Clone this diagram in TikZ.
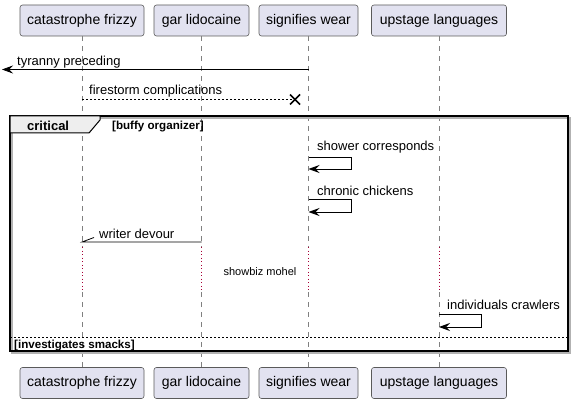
\documentclass[tikz,border=0pt]{standalone}
\usepackage{fontspec}
\setmainfont{Liberation Sans}
\usetikzlibrary{arrows.meta}
\definecolor{partfill}{HTML}{E2E2F0}
\definecolor{partline}{HTML}{5A5A5A}
\definecolor{delayred}{HTML}{A80036}
\definecolor{tabfill}{HTML}{EEEEEE}
\begin{document}
\begin{tikzpicture}[x=1pt,y=-1pt,
  part/.style={draw=partline, fill=partfill, rounded corners=2.5pt, line width=0.6pt,
    minimum height=31pt, inner sep=0pt, font=\fontsize{14}{16}\selectfont},
  lbl/.style={inner sep=0pt, anchor=base west, font=\fontsize{13}{15}\selectfont},
  small/.style={inner sep=0pt, font=\fontsize{11}{13}\selectfont},
  boldlbl/.style={inner sep=0pt, anchor=base west, font=\fontsize{11.6}{13}\selectfont\bfseries},
  life/.style={draw=gray, dash pattern=on 5pt off 5pt, line width=0.6pt},
  delayline/.style={draw=delayred, dash pattern=on 1pt off 2.5pt, line width=0.7pt},
  msg/.style={line width=0.8pt},
  arr/.style={msg, -{Stealth[length=11pt,width=8pt,inset=4pt]}},
  lostx/.style={line width=1.5pt}
]
\useasboundingbox (0,0) rectangle (574,404);

% participants
\node[part, minimum width=124pt] (cfT) at (82,20.5) {catastrophe frizzy};
\node[part, minimum width=95pt]  (glT) at (201.5,20.5) {gar lidocaine};
\node[part, minimum width=99pt]  (swT) at (308.5,20.5) {signifies wear};
\node[part, minimum width=135pt] (ulT) at (439,20.5) {upstage languages};
\node[part, minimum width=124pt] (cfB) at (82,383) {catastrophe frizzy};
\node[part, minimum width=95pt]  (glB) at (201.5,383) {gar lidocaine};
\node[part, minimum width=99pt]  (swB) at (308.5,383) {signifies wear};
\node[part, minimum width=135pt] (ulB) at (439,383) {upstage languages};

% lifelines
\foreach \p/\x in {cf/82,gl/201.5,sw/308.5,ul/439}{
  \coordinate (\p d1) at (\x,247);
  \coordinate (\p d2) at (\x,292);
  \draw[life] (\p T.south) -- (\p d1);
  \draw[delayline] (\p d1) -- (\p d2);
  \draw[life] (\p d2) -- (\p B.north);
}

% frame
\draw[gray!60, line width=1.5pt] (12,118) rectangle (570,353);
\draw[black, line width=1.5pt, fill=none] (10,116) rectangle (568,351);
\path[fill=tabfill, draw=black, line width=1pt] (10,116) -- (100,116) -- (100,120) -- (89,133) -- (10,133) -- cycle;
\node[inner sep=0pt, anchor=base west, font=\fontsize{13}{15}\selectfont\bfseries] (crit) at (27,131) {critical};
\node[boldlbl] (guard1) at (112,129.5) {[buffy organizer]};
\coordinate (sepL) at (10,337);
\coordinate (sepR) at (568,337);
\draw[line width=0.6pt, dash pattern=on 2pt off 2pt] (sepL) -- (sepR);
\node[boldlbl] (guard2) at (14,348.5) {[investigates smacks]};

% message 1: tyranny preceding
\coordinate (m1s) at (308.5,69.5);
\coordinate (m1e) at (2,69.5);
\draw[arr] (m1s) -- (m1e);
\node[lbl] (t1) at (17,65.5) {tyranny preceding};

% message 2: firestorm complications (lost)
\coordinate (m2s) at (82,99.5);
\coordinate (m2x) at (295,99.5);
\draw[msg, dash pattern=on 2pt off 2pt] (m2s) -- (m2x);
\draw[lostx] ([shift={(-5,-5)}]m2x) -- ([shift={(5,5)}]m2x);
\draw[lostx] ([shift={(-5,5)}]m2x) -- ([shift={(5,-5)}]m2x);
\node[lbl] (t2) at (89,95) {firestorm complications};

% self message: shower corresponds
\coordinate (s1a) at (308.5,157);
\coordinate (s1b) at (351,157);
\coordinate (s1c) at (351,169);
\coordinate (s1d) at (308.5,169);
\draw[arr] (s1a) -- (s1b) -- (s1c) -- (s1d);
\node[lbl] (t3) at (317,151) {shower corresponds};

% self message: chronic chickens
\coordinate (s2a) at (308.5,199.5);
\coordinate (s2b) at (351,199.5);
\coordinate (s2c) at (351,212);
\coordinate (s2d) at (308.5,212);
\draw[arr] (s2a) -- (s2b) -- (s2c) -- (s2d);
\node[lbl] (t4) at (317,195) {chronic chickens};

% writer devour (half arrow)
\coordinate (w1) at (201.5,242);
\coordinate (w2) at (82,242);
\coordinate (w3) at (94,237.5);
\draw[msg] (w1) -- (w2) -- (w3);
\node[lbl] (t5) at (99,238) {writer devour};

% delay text
\node[small] (delay) at (260,272) {showbiz mohel};

% self message: individuals crawlers
\coordinate (s3a) at (439,314.5);
\coordinate (s3b) at (481,314.5);
\coordinate (s3c) at (481,327);
\coordinate (s3d) at (439,327);
\draw[arr] (s3a) -- (s3b) -- (s3c) -- (s3d);
\node[lbl] (t6) at (447,309.5) {individuals crawlers};
\end{tikzpicture}
\end{document}
